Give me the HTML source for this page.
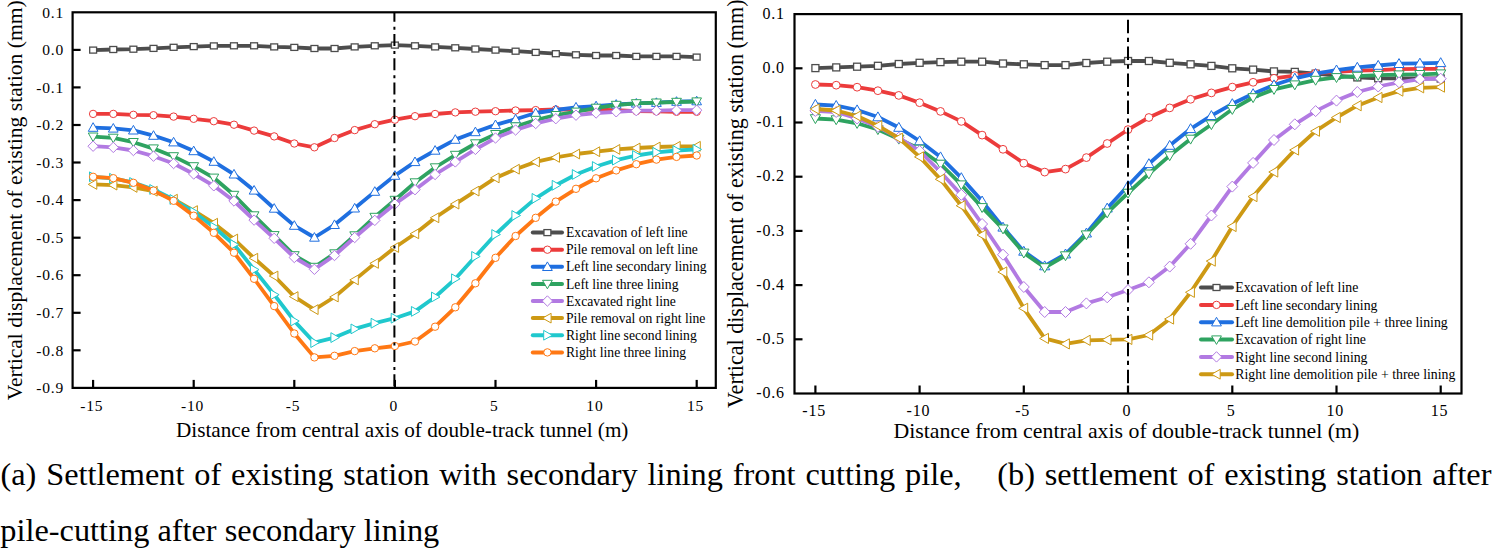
<!DOCTYPE html>
<html><head><meta charset="utf-8"><title>Settlement charts</title>
<style>html,body{margin:0;padding:0;background:#fff;} body{width:1493px;height:548px;overflow:hidden;font-family:"Liberation Serif",serif;} svg{display:block;}</style>
</head><body>
<svg width="1493" height="548" viewBox="0 0 1493 548">
<rect width="1493" height="548" fill="#fff"/>
<path d="M93.1,50.1 L113.3,49.5 L133.4,49.2 L153.5,48.4 L173.6,47.3 L193.7,46.6 L213.8,45.9 L234.0,45.8 L254.1,45.8 L274.2,46.9 L294.3,47.4 L314.4,48.5 L334.5,48.5 L354.7,46.9 L374.8,45.8 L394.9,45.1 L415.0,45.8 L435.1,46.9 L455.3,47.8 L475.4,49.0 L495.5,50.1 L515.6,51.2 L535.7,52.4 L555.8,53.7 L576.0,54.8 L596.1,55.5 L616.2,55.5 L636.3,56.4 L656.4,56.4 L676.5,56.4 L696.7,57.1" fill="none" stroke="#4d4d4d" stroke-width="3.8" stroke-linejoin="round"/>
<rect x="89.69" y="47.10" width="6.9" height="6.0" fill="#fff" stroke="#4d4d4d" stroke-width="1.3"/>
<rect x="109.81" y="46.50" width="6.9" height="6.0" fill="#fff" stroke="#4d4d4d" stroke-width="1.3"/>
<rect x="129.93" y="46.20" width="6.9" height="6.0" fill="#fff" stroke="#4d4d4d" stroke-width="1.3"/>
<rect x="150.05" y="45.40" width="6.9" height="6.0" fill="#fff" stroke="#4d4d4d" stroke-width="1.3"/>
<rect x="170.16" y="44.30" width="6.9" height="6.0" fill="#fff" stroke="#4d4d4d" stroke-width="1.3"/>
<rect x="190.28" y="43.60" width="6.9" height="6.0" fill="#fff" stroke="#4d4d4d" stroke-width="1.3"/>
<rect x="210.40" y="42.90" width="6.9" height="6.0" fill="#fff" stroke="#4d4d4d" stroke-width="1.3"/>
<rect x="230.51" y="42.80" width="6.9" height="6.0" fill="#fff" stroke="#4d4d4d" stroke-width="1.3"/>
<rect x="250.63" y="42.80" width="6.9" height="6.0" fill="#fff" stroke="#4d4d4d" stroke-width="1.3"/>
<rect x="270.75" y="43.90" width="6.9" height="6.0" fill="#fff" stroke="#4d4d4d" stroke-width="1.3"/>
<rect x="290.86" y="44.40" width="6.9" height="6.0" fill="#fff" stroke="#4d4d4d" stroke-width="1.3"/>
<rect x="310.98" y="45.50" width="6.9" height="6.0" fill="#fff" stroke="#4d4d4d" stroke-width="1.3"/>
<rect x="331.10" y="45.50" width="6.9" height="6.0" fill="#fff" stroke="#4d4d4d" stroke-width="1.3"/>
<rect x="351.22" y="43.90" width="6.9" height="6.0" fill="#fff" stroke="#4d4d4d" stroke-width="1.3"/>
<rect x="371.33" y="42.80" width="6.9" height="6.0" fill="#fff" stroke="#4d4d4d" stroke-width="1.3"/>
<rect x="391.45" y="42.10" width="6.9" height="6.0" fill="#fff" stroke="#4d4d4d" stroke-width="1.3"/>
<rect x="411.57" y="42.80" width="6.9" height="6.0" fill="#fff" stroke="#4d4d4d" stroke-width="1.3"/>
<rect x="431.68" y="43.90" width="6.9" height="6.0" fill="#fff" stroke="#4d4d4d" stroke-width="1.3"/>
<rect x="451.80" y="44.80" width="6.9" height="6.0" fill="#fff" stroke="#4d4d4d" stroke-width="1.3"/>
<rect x="471.92" y="46.00" width="6.9" height="6.0" fill="#fff" stroke="#4d4d4d" stroke-width="1.3"/>
<rect x="492.04" y="47.10" width="6.9" height="6.0" fill="#fff" stroke="#4d4d4d" stroke-width="1.3"/>
<rect x="512.15" y="48.20" width="6.9" height="6.0" fill="#fff" stroke="#4d4d4d" stroke-width="1.3"/>
<rect x="532.27" y="49.40" width="6.9" height="6.0" fill="#fff" stroke="#4d4d4d" stroke-width="1.3"/>
<rect x="552.39" y="50.70" width="6.9" height="6.0" fill="#fff" stroke="#4d4d4d" stroke-width="1.3"/>
<rect x="572.50" y="51.80" width="6.9" height="6.0" fill="#fff" stroke="#4d4d4d" stroke-width="1.3"/>
<rect x="592.62" y="52.50" width="6.9" height="6.0" fill="#fff" stroke="#4d4d4d" stroke-width="1.3"/>
<rect x="612.74" y="52.50" width="6.9" height="6.0" fill="#fff" stroke="#4d4d4d" stroke-width="1.3"/>
<rect x="632.85" y="53.40" width="6.9" height="6.0" fill="#fff" stroke="#4d4d4d" stroke-width="1.3"/>
<rect x="652.97" y="53.40" width="6.9" height="6.0" fill="#fff" stroke="#4d4d4d" stroke-width="1.3"/>
<rect x="673.09" y="53.40" width="6.9" height="6.0" fill="#fff" stroke="#4d4d4d" stroke-width="1.3"/>
<rect x="693.20" y="54.10" width="6.9" height="6.0" fill="#fff" stroke="#4d4d4d" stroke-width="1.3"/>
<path d="M93.1,113.9 L113.3,113.9 L133.4,114.8 L153.5,115.2 L173.6,116.6 L193.7,118.8 L213.8,121.2 L234.0,124.7 L254.1,130.6 L274.2,136.4 L294.3,143.5 L314.4,147.3 L334.5,138.0 L354.7,130.1 L374.8,124.2 L394.9,119.7 L415.0,116.2 L435.1,114.0 L455.3,112.4 L475.4,111.7 L495.5,111.2 L515.6,110.5 L535.7,110.1 L555.8,109.5 L576.0,109.5 L596.1,109.7 L616.2,110.2 L636.3,111.1 L656.4,111.4 L676.5,111.8 L696.7,111.8" fill="none" stroke="#ec3b3b" stroke-width="3.8" stroke-linejoin="round"/>
<circle cx="93.1" cy="113.9" r="3.7" fill="#fff" stroke="#ec3b3b" stroke-width="1.0"/>
<circle cx="113.3" cy="113.9" r="3.7" fill="#fff" stroke="#ec3b3b" stroke-width="1.0"/>
<circle cx="133.4" cy="114.8" r="3.7" fill="#fff" stroke="#ec3b3b" stroke-width="1.0"/>
<circle cx="153.5" cy="115.2" r="3.7" fill="#fff" stroke="#ec3b3b" stroke-width="1.0"/>
<circle cx="173.6" cy="116.6" r="3.7" fill="#fff" stroke="#ec3b3b" stroke-width="1.0"/>
<circle cx="193.7" cy="118.8" r="3.7" fill="#fff" stroke="#ec3b3b" stroke-width="1.0"/>
<circle cx="213.8" cy="121.2" r="3.7" fill="#fff" stroke="#ec3b3b" stroke-width="1.0"/>
<circle cx="234.0" cy="124.7" r="3.7" fill="#fff" stroke="#ec3b3b" stroke-width="1.0"/>
<circle cx="254.1" cy="130.6" r="3.7" fill="#fff" stroke="#ec3b3b" stroke-width="1.0"/>
<circle cx="274.2" cy="136.4" r="3.7" fill="#fff" stroke="#ec3b3b" stroke-width="1.0"/>
<circle cx="294.3" cy="143.5" r="3.7" fill="#fff" stroke="#ec3b3b" stroke-width="1.0"/>
<circle cx="314.4" cy="147.3" r="3.7" fill="#fff" stroke="#ec3b3b" stroke-width="1.0"/>
<circle cx="334.5" cy="138.0" r="3.7" fill="#fff" stroke="#ec3b3b" stroke-width="1.0"/>
<circle cx="354.7" cy="130.1" r="3.7" fill="#fff" stroke="#ec3b3b" stroke-width="1.0"/>
<circle cx="374.8" cy="124.2" r="3.7" fill="#fff" stroke="#ec3b3b" stroke-width="1.0"/>
<circle cx="394.9" cy="119.7" r="3.7" fill="#fff" stroke="#ec3b3b" stroke-width="1.0"/>
<circle cx="415.0" cy="116.2" r="3.7" fill="#fff" stroke="#ec3b3b" stroke-width="1.0"/>
<circle cx="435.1" cy="114.0" r="3.7" fill="#fff" stroke="#ec3b3b" stroke-width="1.0"/>
<circle cx="455.3" cy="112.4" r="3.7" fill="#fff" stroke="#ec3b3b" stroke-width="1.0"/>
<circle cx="475.4" cy="111.7" r="3.7" fill="#fff" stroke="#ec3b3b" stroke-width="1.0"/>
<circle cx="495.5" cy="111.2" r="3.7" fill="#fff" stroke="#ec3b3b" stroke-width="1.0"/>
<circle cx="515.6" cy="110.5" r="3.7" fill="#fff" stroke="#ec3b3b" stroke-width="1.0"/>
<circle cx="535.7" cy="110.1" r="3.7" fill="#fff" stroke="#ec3b3b" stroke-width="1.0"/>
<circle cx="555.8" cy="109.5" r="3.7" fill="#fff" stroke="#ec3b3b" stroke-width="1.0"/>
<circle cx="576.0" cy="109.5" r="3.7" fill="#fff" stroke="#ec3b3b" stroke-width="1.0"/>
<circle cx="596.1" cy="109.7" r="3.7" fill="#fff" stroke="#ec3b3b" stroke-width="1.0"/>
<circle cx="616.2" cy="110.2" r="3.7" fill="#fff" stroke="#ec3b3b" stroke-width="1.0"/>
<circle cx="636.3" cy="111.1" r="3.7" fill="#fff" stroke="#ec3b3b" stroke-width="1.0"/>
<circle cx="656.4" cy="111.4" r="3.7" fill="#fff" stroke="#ec3b3b" stroke-width="1.0"/>
<circle cx="676.5" cy="111.8" r="3.7" fill="#fff" stroke="#ec3b3b" stroke-width="1.0"/>
<circle cx="696.7" cy="111.8" r="3.7" fill="#fff" stroke="#ec3b3b" stroke-width="1.0"/>
<path d="M93.1,127.6 L113.3,128.4 L133.4,130.3 L153.5,135.6 L173.6,142.2 L193.7,151.0 L213.8,161.6 L234.0,174.3 L254.1,190.4 L274.2,208.5 L294.3,225.6 L314.4,237.5 L334.5,224.8 L354.7,208.3 L374.8,191.6 L394.9,175.6 L415.0,161.9 L435.1,150.5 L455.3,139.6 L475.4,132.0 L495.5,124.9 L515.6,119.2 L535.7,113.0 L555.8,110.0 L576.0,107.3 L596.1,106.1 L616.2,104.5 L636.3,103.4 L656.4,102.7 L676.5,101.6 L696.7,101.1" fill="none" stroke="#1f6fe0" stroke-width="3.8" stroke-linejoin="round"/>
<polygon points="93.1,122.7 98.0,131.3 88.3,131.3" fill="#fff" stroke="#1f6fe0" stroke-width="1.0"/>
<polygon points="113.3,123.5 118.1,132.1 108.4,132.1" fill="#fff" stroke="#1f6fe0" stroke-width="1.0"/>
<polygon points="133.4,125.4 138.3,134.0 128.5,134.0" fill="#fff" stroke="#1f6fe0" stroke-width="1.0"/>
<polygon points="153.5,130.7 158.4,139.3 148.6,139.3" fill="#fff" stroke="#1f6fe0" stroke-width="1.0"/>
<polygon points="173.6,137.3 178.5,145.9 168.7,145.9" fill="#fff" stroke="#1f6fe0" stroke-width="1.0"/>
<polygon points="193.7,146.1 198.6,154.7 188.8,154.7" fill="#fff" stroke="#1f6fe0" stroke-width="1.0"/>
<polygon points="213.8,156.7 218.7,165.3 209.0,165.3" fill="#fff" stroke="#1f6fe0" stroke-width="1.0"/>
<polygon points="234.0,169.4 238.8,178.0 229.1,178.0" fill="#fff" stroke="#1f6fe0" stroke-width="1.0"/>
<polygon points="254.1,185.5 259.0,194.1 249.2,194.1" fill="#fff" stroke="#1f6fe0" stroke-width="1.0"/>
<polygon points="274.2,203.6 279.1,212.2 269.3,212.2" fill="#fff" stroke="#1f6fe0" stroke-width="1.0"/>
<polygon points="294.3,220.7 299.2,229.3 289.4,229.3" fill="#fff" stroke="#1f6fe0" stroke-width="1.0"/>
<polygon points="314.4,232.6 319.3,241.2 309.6,241.2" fill="#fff" stroke="#1f6fe0" stroke-width="1.0"/>
<polygon points="334.5,219.9 339.4,228.5 329.7,228.5" fill="#fff" stroke="#1f6fe0" stroke-width="1.0"/>
<polygon points="354.7,203.4 359.5,212.0 349.8,212.0" fill="#fff" stroke="#1f6fe0" stroke-width="1.0"/>
<polygon points="374.8,186.7 379.7,195.3 369.9,195.3" fill="#fff" stroke="#1f6fe0" stroke-width="1.0"/>
<polygon points="394.9,170.7 399.8,179.3 390.0,179.3" fill="#fff" stroke="#1f6fe0" stroke-width="1.0"/>
<polygon points="415.0,157.0 419.9,165.6 410.1,165.6" fill="#fff" stroke="#1f6fe0" stroke-width="1.0"/>
<polygon points="435.1,145.6 440.0,154.2 430.3,154.2" fill="#fff" stroke="#1f6fe0" stroke-width="1.0"/>
<polygon points="455.3,134.7 460.1,143.3 450.4,143.3" fill="#fff" stroke="#1f6fe0" stroke-width="1.0"/>
<polygon points="475.4,127.1 480.2,135.7 470.5,135.7" fill="#fff" stroke="#1f6fe0" stroke-width="1.0"/>
<polygon points="495.5,120.0 500.4,128.6 490.6,128.6" fill="#fff" stroke="#1f6fe0" stroke-width="1.0"/>
<polygon points="515.6,114.3 520.5,122.9 510.7,122.9" fill="#fff" stroke="#1f6fe0" stroke-width="1.0"/>
<polygon points="535.7,108.1 540.6,116.7 530.8,116.7" fill="#fff" stroke="#1f6fe0" stroke-width="1.0"/>
<polygon points="555.8,105.1 560.7,113.7 551.0,113.7" fill="#fff" stroke="#1f6fe0" stroke-width="1.0"/>
<polygon points="576.0,102.4 580.8,111.0 571.1,111.0" fill="#fff" stroke="#1f6fe0" stroke-width="1.0"/>
<polygon points="596.1,101.2 600.9,109.8 591.2,109.8" fill="#fff" stroke="#1f6fe0" stroke-width="1.0"/>
<polygon points="616.2,99.6 621.1,108.2 611.3,108.2" fill="#fff" stroke="#1f6fe0" stroke-width="1.0"/>
<polygon points="636.3,98.5 641.2,107.1 631.4,107.1" fill="#fff" stroke="#1f6fe0" stroke-width="1.0"/>
<polygon points="656.4,97.8 661.3,106.4 651.5,106.4" fill="#fff" stroke="#1f6fe0" stroke-width="1.0"/>
<polygon points="676.5,96.7 681.4,105.3 671.7,105.3" fill="#fff" stroke="#1f6fe0" stroke-width="1.0"/>
<polygon points="696.7,96.2 701.5,104.8 691.8,104.8" fill="#fff" stroke="#1f6fe0" stroke-width="1.0"/>
<path d="M93.1,136.7 L113.3,137.9 L133.4,142.2 L153.5,148.6 L173.6,156.4 L193.7,166.4 L213.8,177.8 L234.0,195.0 L254.1,215.5 L274.2,235.3 L294.3,255.4 L314.4,267.0 L334.5,253.5 L354.7,235.5 L374.8,217.0 L394.9,200.0 L415.0,182.5 L435.1,167.5 L455.3,155.0 L475.4,143.5 L495.5,134.2 L515.6,126.5 L535.7,120.0 L555.8,115.2 L576.0,111.8 L596.1,107.9 L616.2,105.0 L636.3,103.4 L656.4,102.7 L676.5,102.0 L696.7,101.6" fill="none" stroke="#2ea360" stroke-width="3.8" stroke-linejoin="round"/>
<polygon points="93.1,141.6 98.0,133.0 88.3,133.0" fill="#fff" stroke="#2ea360" stroke-width="1.0"/>
<polygon points="113.3,142.8 118.1,134.2 108.4,134.2" fill="#fff" stroke="#2ea360" stroke-width="1.0"/>
<polygon points="133.4,147.1 138.3,138.5 128.5,138.5" fill="#fff" stroke="#2ea360" stroke-width="1.0"/>
<polygon points="153.5,153.5 158.4,144.9 148.6,144.9" fill="#fff" stroke="#2ea360" stroke-width="1.0"/>
<polygon points="173.6,161.3 178.5,152.7 168.7,152.7" fill="#fff" stroke="#2ea360" stroke-width="1.0"/>
<polygon points="193.7,171.3 198.6,162.7 188.8,162.7" fill="#fff" stroke="#2ea360" stroke-width="1.0"/>
<polygon points="213.8,182.7 218.7,174.1 209.0,174.1" fill="#fff" stroke="#2ea360" stroke-width="1.0"/>
<polygon points="234.0,199.9 238.8,191.3 229.1,191.3" fill="#fff" stroke="#2ea360" stroke-width="1.0"/>
<polygon points="254.1,220.4 259.0,211.8 249.2,211.8" fill="#fff" stroke="#2ea360" stroke-width="1.0"/>
<polygon points="274.2,240.2 279.1,231.6 269.3,231.6" fill="#fff" stroke="#2ea360" stroke-width="1.0"/>
<polygon points="294.3,260.3 299.2,251.7 289.4,251.7" fill="#fff" stroke="#2ea360" stroke-width="1.0"/>
<polygon points="314.4,271.9 319.3,263.3 309.6,263.3" fill="#fff" stroke="#2ea360" stroke-width="1.0"/>
<polygon points="334.5,258.4 339.4,249.8 329.7,249.8" fill="#fff" stroke="#2ea360" stroke-width="1.0"/>
<polygon points="354.7,240.4 359.5,231.8 349.8,231.8" fill="#fff" stroke="#2ea360" stroke-width="1.0"/>
<polygon points="374.8,221.9 379.7,213.3 369.9,213.3" fill="#fff" stroke="#2ea360" stroke-width="1.0"/>
<polygon points="394.9,204.9 399.8,196.3 390.0,196.3" fill="#fff" stroke="#2ea360" stroke-width="1.0"/>
<polygon points="415.0,187.4 419.9,178.8 410.1,178.8" fill="#fff" stroke="#2ea360" stroke-width="1.0"/>
<polygon points="435.1,172.4 440.0,163.8 430.3,163.8" fill="#fff" stroke="#2ea360" stroke-width="1.0"/>
<polygon points="455.3,159.9 460.1,151.3 450.4,151.3" fill="#fff" stroke="#2ea360" stroke-width="1.0"/>
<polygon points="475.4,148.4 480.2,139.8 470.5,139.8" fill="#fff" stroke="#2ea360" stroke-width="1.0"/>
<polygon points="495.5,139.1 500.4,130.5 490.6,130.5" fill="#fff" stroke="#2ea360" stroke-width="1.0"/>
<polygon points="515.6,131.4 520.5,122.8 510.7,122.8" fill="#fff" stroke="#2ea360" stroke-width="1.0"/>
<polygon points="535.7,124.9 540.6,116.3 530.8,116.3" fill="#fff" stroke="#2ea360" stroke-width="1.0"/>
<polygon points="555.8,120.1 560.7,111.5 551.0,111.5" fill="#fff" stroke="#2ea360" stroke-width="1.0"/>
<polygon points="576.0,116.7 580.8,108.1 571.1,108.1" fill="#fff" stroke="#2ea360" stroke-width="1.0"/>
<polygon points="596.1,112.8 600.9,104.2 591.2,104.2" fill="#fff" stroke="#2ea360" stroke-width="1.0"/>
<polygon points="616.2,109.9 621.1,101.3 611.3,101.3" fill="#fff" stroke="#2ea360" stroke-width="1.0"/>
<polygon points="636.3,108.3 641.2,99.7 631.4,99.7" fill="#fff" stroke="#2ea360" stroke-width="1.0"/>
<polygon points="656.4,107.6 661.3,99.0 651.5,99.0" fill="#fff" stroke="#2ea360" stroke-width="1.0"/>
<polygon points="676.5,106.9 681.4,98.3 671.7,98.3" fill="#fff" stroke="#2ea360" stroke-width="1.0"/>
<polygon points="696.7,106.5 701.5,97.9 691.8,97.9" fill="#fff" stroke="#2ea360" stroke-width="1.0"/>
<path d="M93.1,146.2 L113.3,147.4 L133.4,150.5 L153.5,156.2 L173.6,163.5 L193.7,174.0 L213.8,185.8 L234.0,201.0 L254.1,220.1 L274.2,238.3 L294.3,257.5 L314.4,269.3 L334.5,255.5 L354.7,237.5 L374.8,220.4 L394.9,204.0 L415.0,189.7 L435.1,174.5 L455.3,161.9 L475.4,149.4 L495.5,138.0 L515.6,130.0 L535.7,123.5 L555.8,118.7 L576.0,115.2 L596.1,113.0 L616.2,111.8 L636.3,110.7 L656.4,110.7 L676.5,110.2 L696.7,110.2" fill="none" stroke="#b27ae2" stroke-width="3.8" stroke-linejoin="round"/>
<polygon points="93.1,141.0 98.3,146.2 93.1,151.4 87.9,146.2" fill="#fff" stroke="#b27ae2" stroke-width="1.0"/>
<polygon points="113.3,142.2 118.5,147.4 113.3,152.6 108.1,147.4" fill="#fff" stroke="#b27ae2" stroke-width="1.0"/>
<polygon points="133.4,145.3 138.6,150.5 133.4,155.7 128.2,150.5" fill="#fff" stroke="#b27ae2" stroke-width="1.0"/>
<polygon points="153.5,151.0 158.7,156.2 153.5,161.4 148.3,156.2" fill="#fff" stroke="#b27ae2" stroke-width="1.0"/>
<polygon points="173.6,158.3 178.8,163.5 173.6,168.7 168.4,163.5" fill="#fff" stroke="#b27ae2" stroke-width="1.0"/>
<polygon points="193.7,168.8 198.9,174.0 193.7,179.2 188.5,174.0" fill="#fff" stroke="#b27ae2" stroke-width="1.0"/>
<polygon points="213.8,180.6 219.0,185.8 213.8,191.0 208.6,185.8" fill="#fff" stroke="#b27ae2" stroke-width="1.0"/>
<polygon points="234.0,195.8 239.2,201.0 234.0,206.2 228.8,201.0" fill="#fff" stroke="#b27ae2" stroke-width="1.0"/>
<polygon points="254.1,214.9 259.3,220.1 254.1,225.3 248.9,220.1" fill="#fff" stroke="#b27ae2" stroke-width="1.0"/>
<polygon points="274.2,233.1 279.4,238.3 274.2,243.5 269.0,238.3" fill="#fff" stroke="#b27ae2" stroke-width="1.0"/>
<polygon points="294.3,252.3 299.5,257.5 294.3,262.7 289.1,257.5" fill="#fff" stroke="#b27ae2" stroke-width="1.0"/>
<polygon points="314.4,264.1 319.6,269.3 314.4,274.5 309.2,269.3" fill="#fff" stroke="#b27ae2" stroke-width="1.0"/>
<polygon points="334.5,250.3 339.7,255.5 334.5,260.7 329.3,255.5" fill="#fff" stroke="#b27ae2" stroke-width="1.0"/>
<polygon points="354.7,232.3 359.9,237.5 354.7,242.7 349.5,237.5" fill="#fff" stroke="#b27ae2" stroke-width="1.0"/>
<polygon points="374.8,215.2 380.0,220.4 374.8,225.6 369.6,220.4" fill="#fff" stroke="#b27ae2" stroke-width="1.0"/>
<polygon points="394.9,198.8 400.1,204.0 394.9,209.2 389.7,204.0" fill="#fff" stroke="#b27ae2" stroke-width="1.0"/>
<polygon points="415.0,184.5 420.2,189.7 415.0,194.9 409.8,189.7" fill="#fff" stroke="#b27ae2" stroke-width="1.0"/>
<polygon points="435.1,169.3 440.3,174.5 435.1,179.7 429.9,174.5" fill="#fff" stroke="#b27ae2" stroke-width="1.0"/>
<polygon points="455.3,156.7 460.5,161.9 455.3,167.1 450.1,161.9" fill="#fff" stroke="#b27ae2" stroke-width="1.0"/>
<polygon points="475.4,144.2 480.6,149.4 475.4,154.6 470.2,149.4" fill="#fff" stroke="#b27ae2" stroke-width="1.0"/>
<polygon points="495.5,132.8 500.7,138.0 495.5,143.2 490.3,138.0" fill="#fff" stroke="#b27ae2" stroke-width="1.0"/>
<polygon points="515.6,124.8 520.8,130.0 515.6,135.2 510.4,130.0" fill="#fff" stroke="#b27ae2" stroke-width="1.0"/>
<polygon points="535.7,118.3 540.9,123.5 535.7,128.7 530.5,123.5" fill="#fff" stroke="#b27ae2" stroke-width="1.0"/>
<polygon points="555.8,113.5 561.0,118.7 555.8,123.9 550.6,118.7" fill="#fff" stroke="#b27ae2" stroke-width="1.0"/>
<polygon points="576.0,110.0 581.2,115.2 576.0,120.4 570.8,115.2" fill="#fff" stroke="#b27ae2" stroke-width="1.0"/>
<polygon points="596.1,107.8 601.3,113.0 596.1,118.2 590.9,113.0" fill="#fff" stroke="#b27ae2" stroke-width="1.0"/>
<polygon points="616.2,106.6 621.4,111.8 616.2,117.0 611.0,111.8" fill="#fff" stroke="#b27ae2" stroke-width="1.0"/>
<polygon points="636.3,105.5 641.5,110.7 636.3,115.9 631.1,110.7" fill="#fff" stroke="#b27ae2" stroke-width="1.0"/>
<polygon points="656.4,105.5 661.6,110.7 656.4,115.9 651.2,110.7" fill="#fff" stroke="#b27ae2" stroke-width="1.0"/>
<polygon points="676.5,105.0 681.7,110.2 676.5,115.4 671.3,110.2" fill="#fff" stroke="#b27ae2" stroke-width="1.0"/>
<polygon points="696.7,105.0 701.9,110.2 696.7,115.4 691.5,110.2" fill="#fff" stroke="#b27ae2" stroke-width="1.0"/>
<path d="M93.1,184.4 L113.3,185.1 L133.4,187.4 L153.5,191.2 L173.6,199.2 L193.7,210.6 L213.8,223.2 L234.0,239.0 L254.1,258.2 L274.2,276.0 L294.3,296.6 L314.4,309.6 L334.5,297.0 L354.7,279.9 L374.8,263.4 L394.9,247.5 L415.0,233.8 L435.1,217.8 L455.3,204.1 L475.4,191.1 L495.5,177.9 L515.6,169.2 L535.7,161.9 L555.8,157.4 L576.0,154.0 L596.1,151.7 L616.2,149.4 L636.3,148.0 L656.4,147.0 L676.5,146.3 L696.7,146.3" fill="none" stroke="#cd9914" stroke-width="3.8" stroke-linejoin="round"/>
<polygon points="88.3,184.4 96.8,179.5 96.8,189.3" fill="#fff" stroke="#cd9914" stroke-width="1.0"/>
<polygon points="108.4,185.1 116.9,180.2 116.9,190.0" fill="#fff" stroke="#cd9914" stroke-width="1.0"/>
<polygon points="128.5,187.4 137.0,182.5 137.0,192.3" fill="#fff" stroke="#cd9914" stroke-width="1.0"/>
<polygon points="148.6,191.2 157.2,186.3 157.2,196.1" fill="#fff" stroke="#cd9914" stroke-width="1.0"/>
<polygon points="168.7,199.2 177.3,194.3 177.3,204.1" fill="#fff" stroke="#cd9914" stroke-width="1.0"/>
<polygon points="188.8,210.6 197.4,205.7 197.4,215.5" fill="#fff" stroke="#cd9914" stroke-width="1.0"/>
<polygon points="209.0,223.2 217.5,218.3 217.5,228.1" fill="#fff" stroke="#cd9914" stroke-width="1.0"/>
<polygon points="229.1,239.0 237.6,234.1 237.6,243.9" fill="#fff" stroke="#cd9914" stroke-width="1.0"/>
<polygon points="249.2,258.2 257.7,253.3 257.7,263.1" fill="#fff" stroke="#cd9914" stroke-width="1.0"/>
<polygon points="269.3,276.0 277.9,271.1 277.9,280.9" fill="#fff" stroke="#cd9914" stroke-width="1.0"/>
<polygon points="289.4,296.6 298.0,291.7 298.0,301.5" fill="#fff" stroke="#cd9914" stroke-width="1.0"/>
<polygon points="309.6,309.6 318.1,304.7 318.1,314.5" fill="#fff" stroke="#cd9914" stroke-width="1.0"/>
<polygon points="329.7,297.0 338.2,292.1 338.2,301.9" fill="#fff" stroke="#cd9914" stroke-width="1.0"/>
<polygon points="349.8,279.9 358.3,275.0 358.3,284.8" fill="#fff" stroke="#cd9914" stroke-width="1.0"/>
<polygon points="369.9,263.4 378.4,258.5 378.4,268.3" fill="#fff" stroke="#cd9914" stroke-width="1.0"/>
<polygon points="390.0,247.5 398.6,242.6 398.6,252.4" fill="#fff" stroke="#cd9914" stroke-width="1.0"/>
<polygon points="410.1,233.8 418.7,228.9 418.7,238.7" fill="#fff" stroke="#cd9914" stroke-width="1.0"/>
<polygon points="430.3,217.8 438.8,212.9 438.8,222.7" fill="#fff" stroke="#cd9914" stroke-width="1.0"/>
<polygon points="450.4,204.1 458.9,199.2 458.9,209.0" fill="#fff" stroke="#cd9914" stroke-width="1.0"/>
<polygon points="470.5,191.1 479.0,186.2 479.0,196.0" fill="#fff" stroke="#cd9914" stroke-width="1.0"/>
<polygon points="490.6,177.9 499.1,173.0 499.1,182.8" fill="#fff" stroke="#cd9914" stroke-width="1.0"/>
<polygon points="510.7,169.2 519.3,164.3 519.3,174.1" fill="#fff" stroke="#cd9914" stroke-width="1.0"/>
<polygon points="530.8,161.9 539.4,157.0 539.4,166.8" fill="#fff" stroke="#cd9914" stroke-width="1.0"/>
<polygon points="551.0,157.4 559.5,152.5 559.5,162.3" fill="#fff" stroke="#cd9914" stroke-width="1.0"/>
<polygon points="571.1,154.0 579.6,149.1 579.6,158.9" fill="#fff" stroke="#cd9914" stroke-width="1.0"/>
<polygon points="591.2,151.7 599.7,146.8 599.7,156.6" fill="#fff" stroke="#cd9914" stroke-width="1.0"/>
<polygon points="611.3,149.4 619.8,144.5 619.8,154.3" fill="#fff" stroke="#cd9914" stroke-width="1.0"/>
<polygon points="631.4,148.0 640.0,143.1 640.0,152.9" fill="#fff" stroke="#cd9914" stroke-width="1.0"/>
<polygon points="651.5,147.0 660.1,142.1 660.1,151.9" fill="#fff" stroke="#cd9914" stroke-width="1.0"/>
<polygon points="671.7,146.3 680.2,141.4 680.2,151.2" fill="#fff" stroke="#cd9914" stroke-width="1.0"/>
<polygon points="691.8,146.3 700.3,141.4 700.3,151.2" fill="#fff" stroke="#cd9914" stroke-width="1.0"/>
<path d="M93.1,176.8 L113.3,178.3 L133.4,182.5 L153.5,189.5 L173.6,199.5 L193.7,212.0 L213.8,227.0 L234.0,244.5 L254.1,269.6 L274.2,294.7 L294.3,321.0 L314.4,342.6 L334.5,337.6 L354.7,328.9 L374.8,323.2 L394.9,318.2 L415.0,311.4 L435.1,297.0 L455.3,278.8 L475.4,256.4 L495.5,234.5 L515.6,215.5 L535.7,198.4 L555.8,185.3 L576.0,174.5 L596.1,166.5 L616.2,160.1 L636.3,155.5 L656.4,152.3 L676.5,150.5 L696.7,149.4" fill="none" stroke="#20c8cd" stroke-width="3.8" stroke-linejoin="round"/>
<polygon points="98.0,176.8 89.5,171.9 89.5,181.7" fill="#fff" stroke="#20c8cd" stroke-width="1.0"/>
<polygon points="118.1,178.3 109.6,173.4 109.6,183.2" fill="#fff" stroke="#20c8cd" stroke-width="1.0"/>
<polygon points="138.3,182.5 129.7,177.6 129.7,187.4" fill="#fff" stroke="#20c8cd" stroke-width="1.0"/>
<polygon points="158.4,189.5 149.8,184.6 149.8,194.4" fill="#fff" stroke="#20c8cd" stroke-width="1.0"/>
<polygon points="178.5,199.5 170.0,194.6 170.0,204.4" fill="#fff" stroke="#20c8cd" stroke-width="1.0"/>
<polygon points="198.6,212.0 190.1,207.1 190.1,216.9" fill="#fff" stroke="#20c8cd" stroke-width="1.0"/>
<polygon points="218.7,227.0 210.2,222.1 210.2,231.9" fill="#fff" stroke="#20c8cd" stroke-width="1.0"/>
<polygon points="238.8,244.5 230.3,239.6 230.3,249.4" fill="#fff" stroke="#20c8cd" stroke-width="1.0"/>
<polygon points="259.0,269.6 250.4,264.7 250.4,274.5" fill="#fff" stroke="#20c8cd" stroke-width="1.0"/>
<polygon points="279.1,294.7 270.5,289.8 270.5,299.6" fill="#fff" stroke="#20c8cd" stroke-width="1.0"/>
<polygon points="299.2,321.0 290.7,316.1 290.7,325.9" fill="#fff" stroke="#20c8cd" stroke-width="1.0"/>
<polygon points="319.3,342.6 310.8,337.7 310.8,347.5" fill="#fff" stroke="#20c8cd" stroke-width="1.0"/>
<polygon points="339.4,337.6 330.9,332.7 330.9,342.5" fill="#fff" stroke="#20c8cd" stroke-width="1.0"/>
<polygon points="359.5,328.9 351.0,324.0 351.0,333.8" fill="#fff" stroke="#20c8cd" stroke-width="1.0"/>
<polygon points="379.7,323.2 371.1,318.3 371.1,328.1" fill="#fff" stroke="#20c8cd" stroke-width="1.0"/>
<polygon points="399.8,318.2 391.2,313.3 391.2,323.1" fill="#fff" stroke="#20c8cd" stroke-width="1.0"/>
<polygon points="419.9,311.4 411.4,306.5 411.4,316.3" fill="#fff" stroke="#20c8cd" stroke-width="1.0"/>
<polygon points="440.0,297.0 431.5,292.1 431.5,301.9" fill="#fff" stroke="#20c8cd" stroke-width="1.0"/>
<polygon points="460.1,278.8 451.6,273.9 451.6,283.7" fill="#fff" stroke="#20c8cd" stroke-width="1.0"/>
<polygon points="480.2,256.4 471.7,251.5 471.7,261.3" fill="#fff" stroke="#20c8cd" stroke-width="1.0"/>
<polygon points="500.4,234.5 491.8,229.6 491.8,239.4" fill="#fff" stroke="#20c8cd" stroke-width="1.0"/>
<polygon points="520.5,215.5 511.9,210.6 511.9,220.4" fill="#fff" stroke="#20c8cd" stroke-width="1.0"/>
<polygon points="540.6,198.4 532.1,193.5 532.1,203.3" fill="#fff" stroke="#20c8cd" stroke-width="1.0"/>
<polygon points="560.7,185.3 552.2,180.4 552.2,190.2" fill="#fff" stroke="#20c8cd" stroke-width="1.0"/>
<polygon points="580.8,174.5 572.3,169.6 572.3,179.4" fill="#fff" stroke="#20c8cd" stroke-width="1.0"/>
<polygon points="600.9,166.5 592.4,161.6 592.4,171.4" fill="#fff" stroke="#20c8cd" stroke-width="1.0"/>
<polygon points="621.1,160.1 612.5,155.2 612.5,165.0" fill="#fff" stroke="#20c8cd" stroke-width="1.0"/>
<polygon points="641.2,155.5 632.6,150.6 632.6,160.4" fill="#fff" stroke="#20c8cd" stroke-width="1.0"/>
<polygon points="661.3,152.3 652.8,147.4 652.8,157.2" fill="#fff" stroke="#20c8cd" stroke-width="1.0"/>
<polygon points="681.4,150.5 672.9,145.6 672.9,155.4" fill="#fff" stroke="#20c8cd" stroke-width="1.0"/>
<polygon points="701.5,149.4 693.0,144.5 693.0,154.3" fill="#fff" stroke="#20c8cd" stroke-width="1.0"/>
<path d="M93.1,176.8 L113.3,178.2 L133.4,182.8 L153.5,190.6 L173.6,200.8 L193.7,215.7 L213.8,232.8 L234.0,252.7 L254.1,278.8 L274.2,306.1 L294.3,333.5 L314.4,357.4 L334.5,355.8 L354.7,351.1 L374.8,348.3 L394.9,346.0 L415.0,341.5 L435.1,326.7 L455.3,307.3 L475.4,283.3 L495.5,257.8 L515.6,236.0 L535.7,217.8 L555.8,201.6 L576.0,188.8 L596.1,178.3 L616.2,170.4 L636.3,164.2 L656.4,159.6 L676.5,156.9 L696.7,155.5" fill="none" stroke="#ff7814" stroke-width="3.8" stroke-linejoin="round"/>
<circle cx="93.1" cy="176.8" r="3.7" fill="#fff" stroke="#ff7814" stroke-width="1.0"/>
<circle cx="113.3" cy="178.2" r="3.7" fill="#fff" stroke="#ff7814" stroke-width="1.0"/>
<circle cx="133.4" cy="182.8" r="3.7" fill="#fff" stroke="#ff7814" stroke-width="1.0"/>
<circle cx="153.5" cy="190.6" r="3.7" fill="#fff" stroke="#ff7814" stroke-width="1.0"/>
<circle cx="173.6" cy="200.8" r="3.7" fill="#fff" stroke="#ff7814" stroke-width="1.0"/>
<circle cx="193.7" cy="215.7" r="3.7" fill="#fff" stroke="#ff7814" stroke-width="1.0"/>
<circle cx="213.8" cy="232.8" r="3.7" fill="#fff" stroke="#ff7814" stroke-width="1.0"/>
<circle cx="234.0" cy="252.7" r="3.7" fill="#fff" stroke="#ff7814" stroke-width="1.0"/>
<circle cx="254.1" cy="278.8" r="3.7" fill="#fff" stroke="#ff7814" stroke-width="1.0"/>
<circle cx="274.2" cy="306.1" r="3.7" fill="#fff" stroke="#ff7814" stroke-width="1.0"/>
<circle cx="294.3" cy="333.5" r="3.7" fill="#fff" stroke="#ff7814" stroke-width="1.0"/>
<circle cx="314.4" cy="357.4" r="3.7" fill="#fff" stroke="#ff7814" stroke-width="1.0"/>
<circle cx="334.5" cy="355.8" r="3.7" fill="#fff" stroke="#ff7814" stroke-width="1.0"/>
<circle cx="354.7" cy="351.1" r="3.7" fill="#fff" stroke="#ff7814" stroke-width="1.0"/>
<circle cx="374.8" cy="348.3" r="3.7" fill="#fff" stroke="#ff7814" stroke-width="1.0"/>
<circle cx="394.9" cy="346.0" r="3.7" fill="#fff" stroke="#ff7814" stroke-width="1.0"/>
<circle cx="415.0" cy="341.5" r="3.7" fill="#fff" stroke="#ff7814" stroke-width="1.0"/>
<circle cx="435.1" cy="326.7" r="3.7" fill="#fff" stroke="#ff7814" stroke-width="1.0"/>
<circle cx="455.3" cy="307.3" r="3.7" fill="#fff" stroke="#ff7814" stroke-width="1.0"/>
<circle cx="475.4" cy="283.3" r="3.7" fill="#fff" stroke="#ff7814" stroke-width="1.0"/>
<circle cx="495.5" cy="257.8" r="3.7" fill="#fff" stroke="#ff7814" stroke-width="1.0"/>
<circle cx="515.6" cy="236.0" r="3.7" fill="#fff" stroke="#ff7814" stroke-width="1.0"/>
<circle cx="535.7" cy="217.8" r="3.7" fill="#fff" stroke="#ff7814" stroke-width="1.0"/>
<circle cx="555.8" cy="201.6" r="3.7" fill="#fff" stroke="#ff7814" stroke-width="1.0"/>
<circle cx="576.0" cy="188.8" r="3.7" fill="#fff" stroke="#ff7814" stroke-width="1.0"/>
<circle cx="596.1" cy="178.3" r="3.7" fill="#fff" stroke="#ff7814" stroke-width="1.0"/>
<circle cx="616.2" cy="170.4" r="3.7" fill="#fff" stroke="#ff7814" stroke-width="1.0"/>
<circle cx="636.3" cy="164.2" r="3.7" fill="#fff" stroke="#ff7814" stroke-width="1.0"/>
<circle cx="656.4" cy="159.6" r="3.7" fill="#fff" stroke="#ff7814" stroke-width="1.0"/>
<circle cx="676.5" cy="156.9" r="3.7" fill="#fff" stroke="#ff7814" stroke-width="1.0"/>
<circle cx="696.7" cy="155.5" r="3.7" fill="#fff" stroke="#ff7814" stroke-width="1.0"/>
<path d="M815.4,68.1 L836.2,67.4 L857.1,66.7 L877.9,65.8 L898.8,64.0 L919.6,62.8 L940.5,62.1 L961.3,61.7 L982.1,61.7 L1003.0,63.5 L1023.8,64.3 L1044.7,65.1 L1065.5,65.1 L1086.4,63.0 L1107.2,61.7 L1128.0,61.0 L1148.9,61.0 L1169.7,62.8 L1190.6,64.3 L1211.4,65.9 L1232.3,68.3 L1253.1,69.6 L1274.0,71.4 L1294.8,71.9 L1315.6,73.7 L1336.5,75.6 L1357.3,77.4 L1378.2,78.3 L1399.0,78.3 L1419.9,78.3 L1440.7,78.5" fill="none" stroke="#4d4d4d" stroke-width="3.8" stroke-linejoin="round"/>
<rect x="811.90" y="64.60" width="7.0" height="7.0" fill="#fff" stroke="#4d4d4d" stroke-width="1.3"/>
<rect x="832.75" y="63.90" width="7.0" height="7.0" fill="#fff" stroke="#4d4d4d" stroke-width="1.3"/>
<rect x="853.59" y="63.20" width="7.0" height="7.0" fill="#fff" stroke="#4d4d4d" stroke-width="1.3"/>
<rect x="874.43" y="62.30" width="7.0" height="7.0" fill="#fff" stroke="#4d4d4d" stroke-width="1.3"/>
<rect x="895.28" y="60.50" width="7.0" height="7.0" fill="#fff" stroke="#4d4d4d" stroke-width="1.3"/>
<rect x="916.12" y="59.30" width="7.0" height="7.0" fill="#fff" stroke="#4d4d4d" stroke-width="1.3"/>
<rect x="936.96" y="58.60" width="7.0" height="7.0" fill="#fff" stroke="#4d4d4d" stroke-width="1.3"/>
<rect x="957.81" y="58.20" width="7.0" height="7.0" fill="#fff" stroke="#4d4d4d" stroke-width="1.3"/>
<rect x="978.65" y="58.20" width="7.0" height="7.0" fill="#fff" stroke="#4d4d4d" stroke-width="1.3"/>
<rect x="999.49" y="60.00" width="7.0" height="7.0" fill="#fff" stroke="#4d4d4d" stroke-width="1.3"/>
<rect x="1020.33" y="60.80" width="7.0" height="7.0" fill="#fff" stroke="#4d4d4d" stroke-width="1.3"/>
<rect x="1041.18" y="61.60" width="7.0" height="7.0" fill="#fff" stroke="#4d4d4d" stroke-width="1.3"/>
<rect x="1062.02" y="61.60" width="7.0" height="7.0" fill="#fff" stroke="#4d4d4d" stroke-width="1.3"/>
<rect x="1082.86" y="59.50" width="7.0" height="7.0" fill="#fff" stroke="#4d4d4d" stroke-width="1.3"/>
<rect x="1103.71" y="58.20" width="7.0" height="7.0" fill="#fff" stroke="#4d4d4d" stroke-width="1.3"/>
<rect x="1124.55" y="57.50" width="7.0" height="7.0" fill="#fff" stroke="#4d4d4d" stroke-width="1.3"/>
<rect x="1145.39" y="57.50" width="7.0" height="7.0" fill="#fff" stroke="#4d4d4d" stroke-width="1.3"/>
<rect x="1166.24" y="59.30" width="7.0" height="7.0" fill="#fff" stroke="#4d4d4d" stroke-width="1.3"/>
<rect x="1187.08" y="60.80" width="7.0" height="7.0" fill="#fff" stroke="#4d4d4d" stroke-width="1.3"/>
<rect x="1207.92" y="62.40" width="7.0" height="7.0" fill="#fff" stroke="#4d4d4d" stroke-width="1.3"/>
<rect x="1228.76" y="64.80" width="7.0" height="7.0" fill="#fff" stroke="#4d4d4d" stroke-width="1.3"/>
<rect x="1249.61" y="66.10" width="7.0" height="7.0" fill="#fff" stroke="#4d4d4d" stroke-width="1.3"/>
<rect x="1270.45" y="67.90" width="7.0" height="7.0" fill="#fff" stroke="#4d4d4d" stroke-width="1.3"/>
<rect x="1291.29" y="68.40" width="7.0" height="7.0" fill="#fff" stroke="#4d4d4d" stroke-width="1.3"/>
<rect x="1312.14" y="70.20" width="7.0" height="7.0" fill="#fff" stroke="#4d4d4d" stroke-width="1.3"/>
<rect x="1332.98" y="72.10" width="7.0" height="7.0" fill="#fff" stroke="#4d4d4d" stroke-width="1.3"/>
<rect x="1353.82" y="73.90" width="7.0" height="7.0" fill="#fff" stroke="#4d4d4d" stroke-width="1.3"/>
<rect x="1374.67" y="74.80" width="7.0" height="7.0" fill="#fff" stroke="#4d4d4d" stroke-width="1.3"/>
<rect x="1395.51" y="74.80" width="7.0" height="7.0" fill="#fff" stroke="#4d4d4d" stroke-width="1.3"/>
<rect x="1416.35" y="74.80" width="7.0" height="7.0" fill="#fff" stroke="#4d4d4d" stroke-width="1.3"/>
<rect x="1437.19" y="75.00" width="7.0" height="7.0" fill="#fff" stroke="#4d4d4d" stroke-width="1.3"/>
<path d="M815.4,84.5 L836.2,85.2 L857.1,87.2 L877.9,90.7 L898.8,95.4 L919.6,102.7 L940.5,111.4 L961.3,121.4 L982.1,135.1 L1003.0,149.3 L1023.8,163.2 L1044.7,172.1 L1065.5,169.1 L1086.4,157.6 L1107.2,143.5 L1128.0,129.6 L1148.9,117.5 L1169.7,107.9 L1190.6,99.3 L1211.4,92.9 L1232.3,87.1 L1253.1,82.3 L1274.0,78.3 L1294.8,75.6 L1315.6,73.2 L1336.5,71.9 L1357.3,70.6 L1378.2,70.1 L1399.0,69.2 L1419.9,68.8 L1440.7,68.8" fill="none" stroke="#ec3b3b" stroke-width="3.8" stroke-linejoin="round"/>
<circle cx="815.4" cy="84.5" r="3.9" fill="#fff" stroke="#ec3b3b" stroke-width="1.0"/>
<circle cx="836.2" cy="85.2" r="3.9" fill="#fff" stroke="#ec3b3b" stroke-width="1.0"/>
<circle cx="857.1" cy="87.2" r="3.9" fill="#fff" stroke="#ec3b3b" stroke-width="1.0"/>
<circle cx="877.9" cy="90.7" r="3.9" fill="#fff" stroke="#ec3b3b" stroke-width="1.0"/>
<circle cx="898.8" cy="95.4" r="3.9" fill="#fff" stroke="#ec3b3b" stroke-width="1.0"/>
<circle cx="919.6" cy="102.7" r="3.9" fill="#fff" stroke="#ec3b3b" stroke-width="1.0"/>
<circle cx="940.5" cy="111.4" r="3.9" fill="#fff" stroke="#ec3b3b" stroke-width="1.0"/>
<circle cx="961.3" cy="121.4" r="3.9" fill="#fff" stroke="#ec3b3b" stroke-width="1.0"/>
<circle cx="982.1" cy="135.1" r="3.9" fill="#fff" stroke="#ec3b3b" stroke-width="1.0"/>
<circle cx="1003.0" cy="149.3" r="3.9" fill="#fff" stroke="#ec3b3b" stroke-width="1.0"/>
<circle cx="1023.8" cy="163.2" r="3.9" fill="#fff" stroke="#ec3b3b" stroke-width="1.0"/>
<circle cx="1044.7" cy="172.1" r="3.9" fill="#fff" stroke="#ec3b3b" stroke-width="1.0"/>
<circle cx="1065.5" cy="169.1" r="3.9" fill="#fff" stroke="#ec3b3b" stroke-width="1.0"/>
<circle cx="1086.4" cy="157.6" r="3.9" fill="#fff" stroke="#ec3b3b" stroke-width="1.0"/>
<circle cx="1107.2" cy="143.5" r="3.9" fill="#fff" stroke="#ec3b3b" stroke-width="1.0"/>
<circle cx="1128.0" cy="129.6" r="3.9" fill="#fff" stroke="#ec3b3b" stroke-width="1.0"/>
<circle cx="1148.9" cy="117.5" r="3.9" fill="#fff" stroke="#ec3b3b" stroke-width="1.0"/>
<circle cx="1169.7" cy="107.9" r="3.9" fill="#fff" stroke="#ec3b3b" stroke-width="1.0"/>
<circle cx="1190.6" cy="99.3" r="3.9" fill="#fff" stroke="#ec3b3b" stroke-width="1.0"/>
<circle cx="1211.4" cy="92.9" r="3.9" fill="#fff" stroke="#ec3b3b" stroke-width="1.0"/>
<circle cx="1232.3" cy="87.1" r="3.9" fill="#fff" stroke="#ec3b3b" stroke-width="1.0"/>
<circle cx="1253.1" cy="82.3" r="3.9" fill="#fff" stroke="#ec3b3b" stroke-width="1.0"/>
<circle cx="1274.0" cy="78.3" r="3.9" fill="#fff" stroke="#ec3b3b" stroke-width="1.0"/>
<circle cx="1294.8" cy="75.6" r="3.9" fill="#fff" stroke="#ec3b3b" stroke-width="1.0"/>
<circle cx="1315.6" cy="73.2" r="3.9" fill="#fff" stroke="#ec3b3b" stroke-width="1.0"/>
<circle cx="1336.5" cy="71.9" r="3.9" fill="#fff" stroke="#ec3b3b" stroke-width="1.0"/>
<circle cx="1357.3" cy="70.6" r="3.9" fill="#fff" stroke="#ec3b3b" stroke-width="1.0"/>
<circle cx="1378.2" cy="70.1" r="3.9" fill="#fff" stroke="#ec3b3b" stroke-width="1.0"/>
<circle cx="1399.0" cy="69.2" r="3.9" fill="#fff" stroke="#ec3b3b" stroke-width="1.0"/>
<circle cx="1419.9" cy="68.8" r="3.9" fill="#fff" stroke="#ec3b3b" stroke-width="1.0"/>
<circle cx="1440.7" cy="68.8" r="3.9" fill="#fff" stroke="#ec3b3b" stroke-width="1.0"/>
<path d="M815.4,104.5 L836.2,105.6 L857.1,110.0 L877.9,117.0 L898.8,127.5 L919.6,141.0 L940.5,157.0 L961.3,177.8 L982.1,201.1 L1003.0,227.3 L1023.8,251.4 L1044.7,266.0 L1065.5,254.1 L1086.4,233.2 L1107.2,208.2 L1128.0,185.7 L1148.9,163.8 L1169.7,145.5 L1190.6,128.8 L1211.4,115.7 L1232.3,103.8 L1253.1,93.8 L1274.0,85.0 L1294.8,78.3 L1315.6,73.7 L1336.5,70.1 L1357.3,67.4 L1378.2,65.5 L1399.0,63.7 L1419.9,63.3 L1440.7,62.8" fill="none" stroke="#1f6fe0" stroke-width="3.8" stroke-linejoin="round"/>
<polygon points="815.4,99.4 820.5,108.3 810.3,108.3" fill="#fff" stroke="#1f6fe0" stroke-width="1.0"/>
<polygon points="836.2,100.5 841.4,109.4 831.1,109.4" fill="#fff" stroke="#1f6fe0" stroke-width="1.0"/>
<polygon points="857.1,104.9 862.2,113.8 852.0,113.8" fill="#fff" stroke="#1f6fe0" stroke-width="1.0"/>
<polygon points="877.9,111.9 883.1,120.8 872.8,120.8" fill="#fff" stroke="#1f6fe0" stroke-width="1.0"/>
<polygon points="898.8,122.4 903.9,131.3 893.7,131.3" fill="#fff" stroke="#1f6fe0" stroke-width="1.0"/>
<polygon points="919.6,135.9 924.7,144.8 914.5,144.8" fill="#fff" stroke="#1f6fe0" stroke-width="1.0"/>
<polygon points="940.5,151.9 945.6,160.8 935.3,160.8" fill="#fff" stroke="#1f6fe0" stroke-width="1.0"/>
<polygon points="961.3,172.7 966.4,181.6 956.2,181.6" fill="#fff" stroke="#1f6fe0" stroke-width="1.0"/>
<polygon points="982.1,196.0 987.3,204.9 977.0,204.9" fill="#fff" stroke="#1f6fe0" stroke-width="1.0"/>
<polygon points="1003.0,222.2 1008.1,231.1 997.9,231.1" fill="#fff" stroke="#1f6fe0" stroke-width="1.0"/>
<polygon points="1023.8,246.3 1029.0,255.2 1018.7,255.2" fill="#fff" stroke="#1f6fe0" stroke-width="1.0"/>
<polygon points="1044.7,260.9 1049.8,269.8 1039.6,269.8" fill="#fff" stroke="#1f6fe0" stroke-width="1.0"/>
<polygon points="1065.5,249.0 1070.6,257.9 1060.4,257.9" fill="#fff" stroke="#1f6fe0" stroke-width="1.0"/>
<polygon points="1086.4,228.1 1091.5,237.0 1081.2,237.0" fill="#fff" stroke="#1f6fe0" stroke-width="1.0"/>
<polygon points="1107.2,203.1 1112.3,212.0 1102.1,212.0" fill="#fff" stroke="#1f6fe0" stroke-width="1.0"/>
<polygon points="1128.0,180.6 1133.2,189.5 1122.9,189.5" fill="#fff" stroke="#1f6fe0" stroke-width="1.0"/>
<polygon points="1148.9,158.7 1154.0,167.6 1143.8,167.6" fill="#fff" stroke="#1f6fe0" stroke-width="1.0"/>
<polygon points="1169.7,140.4 1174.9,149.3 1164.6,149.3" fill="#fff" stroke="#1f6fe0" stroke-width="1.0"/>
<polygon points="1190.6,123.7 1195.7,132.6 1185.5,132.6" fill="#fff" stroke="#1f6fe0" stroke-width="1.0"/>
<polygon points="1211.4,110.6 1216.5,119.5 1206.3,119.5" fill="#fff" stroke="#1f6fe0" stroke-width="1.0"/>
<polygon points="1232.3,98.7 1237.4,107.6 1227.1,107.6" fill="#fff" stroke="#1f6fe0" stroke-width="1.0"/>
<polygon points="1253.1,88.7 1258.2,97.6 1248.0,97.6" fill="#fff" stroke="#1f6fe0" stroke-width="1.0"/>
<polygon points="1274.0,79.9 1279.1,88.8 1268.8,88.8" fill="#fff" stroke="#1f6fe0" stroke-width="1.0"/>
<polygon points="1294.8,73.2 1299.9,82.1 1289.7,82.1" fill="#fff" stroke="#1f6fe0" stroke-width="1.0"/>
<polygon points="1315.6,68.6 1320.8,77.5 1310.5,77.5" fill="#fff" stroke="#1f6fe0" stroke-width="1.0"/>
<polygon points="1336.5,65.0 1341.6,73.9 1331.4,73.9" fill="#fff" stroke="#1f6fe0" stroke-width="1.0"/>
<polygon points="1357.3,62.3 1362.4,71.2 1352.2,71.2" fill="#fff" stroke="#1f6fe0" stroke-width="1.0"/>
<polygon points="1378.2,60.4 1383.3,69.3 1373.0,69.3" fill="#fff" stroke="#1f6fe0" stroke-width="1.0"/>
<polygon points="1399.0,58.6 1404.1,67.5 1393.9,67.5" fill="#fff" stroke="#1f6fe0" stroke-width="1.0"/>
<polygon points="1419.9,58.2 1425.0,67.1 1414.7,67.1" fill="#fff" stroke="#1f6fe0" stroke-width="1.0"/>
<polygon points="1440.7,57.7 1445.8,66.6 1435.6,66.6" fill="#fff" stroke="#1f6fe0" stroke-width="1.0"/>
<path d="M815.4,118.5 L836.2,119.6 L857.1,123.3 L877.9,129.5 L898.8,139.0 L919.6,149.0 L940.5,164.0 L961.3,184.7 L982.1,207.4 L1003.0,228.8 L1023.8,252.9 L1044.7,267.5 L1065.5,255.6 L1086.4,234.7 L1107.2,212.8 L1128.0,193.0 L1148.9,173.8 L1169.7,155.6 L1190.6,139.0 L1211.4,124.5 L1232.3,109.3 L1253.1,97.5 L1274.0,89.3 L1294.8,84.7 L1315.6,80.1 L1336.5,77.4 L1357.3,76.1 L1378.2,75.2 L1399.0,74.7 L1419.9,74.3 L1440.7,73.7" fill="none" stroke="#2ea360" stroke-width="3.8" stroke-linejoin="round"/>
<polygon points="815.4,123.6 820.5,114.7 810.3,114.7" fill="#fff" stroke="#2ea360" stroke-width="1.0"/>
<polygon points="836.2,124.7 841.4,115.8 831.1,115.8" fill="#fff" stroke="#2ea360" stroke-width="1.0"/>
<polygon points="857.1,128.4 862.2,119.5 852.0,119.5" fill="#fff" stroke="#2ea360" stroke-width="1.0"/>
<polygon points="877.9,134.6 883.1,125.7 872.8,125.7" fill="#fff" stroke="#2ea360" stroke-width="1.0"/>
<polygon points="898.8,144.1 903.9,135.2 893.7,135.2" fill="#fff" stroke="#2ea360" stroke-width="1.0"/>
<polygon points="919.6,154.1 924.7,145.2 914.5,145.2" fill="#fff" stroke="#2ea360" stroke-width="1.0"/>
<polygon points="940.5,169.1 945.6,160.2 935.3,160.2" fill="#fff" stroke="#2ea360" stroke-width="1.0"/>
<polygon points="961.3,189.8 966.4,180.9 956.2,180.9" fill="#fff" stroke="#2ea360" stroke-width="1.0"/>
<polygon points="982.1,212.5 987.3,203.6 977.0,203.6" fill="#fff" stroke="#2ea360" stroke-width="1.0"/>
<polygon points="1003.0,233.9 1008.1,225.0 997.9,225.0" fill="#fff" stroke="#2ea360" stroke-width="1.0"/>
<polygon points="1023.8,258.0 1029.0,249.1 1018.7,249.1" fill="#fff" stroke="#2ea360" stroke-width="1.0"/>
<polygon points="1044.7,272.6 1049.8,263.7 1039.6,263.7" fill="#fff" stroke="#2ea360" stroke-width="1.0"/>
<polygon points="1065.5,260.7 1070.6,251.8 1060.4,251.8" fill="#fff" stroke="#2ea360" stroke-width="1.0"/>
<polygon points="1086.4,239.8 1091.5,230.9 1081.2,230.9" fill="#fff" stroke="#2ea360" stroke-width="1.0"/>
<polygon points="1107.2,217.9 1112.3,209.0 1102.1,209.0" fill="#fff" stroke="#2ea360" stroke-width="1.0"/>
<polygon points="1128.0,198.1 1133.2,189.2 1122.9,189.2" fill="#fff" stroke="#2ea360" stroke-width="1.0"/>
<polygon points="1148.9,178.9 1154.0,170.0 1143.8,170.0" fill="#fff" stroke="#2ea360" stroke-width="1.0"/>
<polygon points="1169.7,160.7 1174.9,151.8 1164.6,151.8" fill="#fff" stroke="#2ea360" stroke-width="1.0"/>
<polygon points="1190.6,144.1 1195.7,135.2 1185.5,135.2" fill="#fff" stroke="#2ea360" stroke-width="1.0"/>
<polygon points="1211.4,129.6 1216.5,120.7 1206.3,120.7" fill="#fff" stroke="#2ea360" stroke-width="1.0"/>
<polygon points="1232.3,114.4 1237.4,105.5 1227.1,105.5" fill="#fff" stroke="#2ea360" stroke-width="1.0"/>
<polygon points="1253.1,102.6 1258.2,93.7 1248.0,93.7" fill="#fff" stroke="#2ea360" stroke-width="1.0"/>
<polygon points="1274.0,94.4 1279.1,85.5 1268.8,85.5" fill="#fff" stroke="#2ea360" stroke-width="1.0"/>
<polygon points="1294.8,89.8 1299.9,80.9 1289.7,80.9" fill="#fff" stroke="#2ea360" stroke-width="1.0"/>
<polygon points="1315.6,85.2 1320.8,76.3 1310.5,76.3" fill="#fff" stroke="#2ea360" stroke-width="1.0"/>
<polygon points="1336.5,82.5 1341.6,73.6 1331.4,73.6" fill="#fff" stroke="#2ea360" stroke-width="1.0"/>
<polygon points="1357.3,81.2 1362.4,72.3 1352.2,72.3" fill="#fff" stroke="#2ea360" stroke-width="1.0"/>
<polygon points="1378.2,80.3 1383.3,71.4 1373.0,71.4" fill="#fff" stroke="#2ea360" stroke-width="1.0"/>
<polygon points="1399.0,79.8 1404.1,70.9 1393.9,70.9" fill="#fff" stroke="#2ea360" stroke-width="1.0"/>
<polygon points="1419.9,79.4 1425.0,70.5 1414.7,70.5" fill="#fff" stroke="#2ea360" stroke-width="1.0"/>
<polygon points="1440.7,78.8 1445.8,69.9 1435.6,69.9" fill="#fff" stroke="#2ea360" stroke-width="1.0"/>
<path d="M815.4,110.9 L836.2,112.0 L857.1,118.5 L877.9,126.8 L898.8,137.7 L919.6,151.0 L940.5,172.0 L961.3,194.8 L982.1,224.0 L1003.0,254.7 L1023.8,287.0 L1044.7,312.0 L1065.5,312.0 L1086.4,303.4 L1107.2,297.3 L1128.0,290.0 L1148.9,282.3 L1169.7,266.6 L1190.6,243.8 L1211.4,215.5 L1232.3,186.6 L1253.1,162.9 L1274.0,140.0 L1294.8,124.3 L1315.6,111.1 L1336.5,100.6 L1357.3,92.0 L1378.2,86.5 L1399.0,82.3 L1419.9,79.2 L1440.7,78.7" fill="none" stroke="#b27ae2" stroke-width="3.8" stroke-linejoin="round"/>
<polygon points="815.4,105.4 820.9,110.9 815.4,116.4 809.9,110.9" fill="#fff" stroke="#b27ae2" stroke-width="1.0"/>
<polygon points="836.2,106.5 841.7,112.0 836.2,117.5 830.8,112.0" fill="#fff" stroke="#b27ae2" stroke-width="1.0"/>
<polygon points="857.1,113.0 862.6,118.5 857.1,124.0 851.6,118.5" fill="#fff" stroke="#b27ae2" stroke-width="1.0"/>
<polygon points="877.9,121.3 883.4,126.8 877.9,132.3 872.5,126.8" fill="#fff" stroke="#b27ae2" stroke-width="1.0"/>
<polygon points="898.8,132.2 904.2,137.7 898.8,143.2 893.3,137.7" fill="#fff" stroke="#b27ae2" stroke-width="1.0"/>
<polygon points="919.6,145.5 925.1,151.0 919.6,156.5 914.2,151.0" fill="#fff" stroke="#b27ae2" stroke-width="1.0"/>
<polygon points="940.5,166.5 945.9,172.0 940.5,177.5 935.0,172.0" fill="#fff" stroke="#b27ae2" stroke-width="1.0"/>
<polygon points="961.3,189.3 966.8,194.8 961.3,200.3 955.8,194.8" fill="#fff" stroke="#b27ae2" stroke-width="1.0"/>
<polygon points="982.1,218.5 987.6,224.0 982.1,229.5 976.7,224.0" fill="#fff" stroke="#b27ae2" stroke-width="1.0"/>
<polygon points="1003.0,249.2 1008.5,254.7 1003.0,260.2 997.5,254.7" fill="#fff" stroke="#b27ae2" stroke-width="1.0"/>
<polygon points="1023.8,281.5 1029.3,287.0 1023.8,292.5 1018.4,287.0" fill="#fff" stroke="#b27ae2" stroke-width="1.0"/>
<polygon points="1044.7,306.5 1050.1,312.0 1044.7,317.5 1039.2,312.0" fill="#fff" stroke="#b27ae2" stroke-width="1.0"/>
<polygon points="1065.5,306.5 1071.0,312.0 1065.5,317.5 1060.1,312.0" fill="#fff" stroke="#b27ae2" stroke-width="1.0"/>
<polygon points="1086.4,297.9 1091.8,303.4 1086.4,308.9 1080.9,303.4" fill="#fff" stroke="#b27ae2" stroke-width="1.0"/>
<polygon points="1107.2,291.8 1112.7,297.3 1107.2,302.8 1101.7,297.3" fill="#fff" stroke="#b27ae2" stroke-width="1.0"/>
<polygon points="1128.0,284.5 1133.5,290.0 1128.0,295.5 1122.6,290.0" fill="#fff" stroke="#b27ae2" stroke-width="1.0"/>
<polygon points="1148.9,276.8 1154.4,282.3 1148.9,287.8 1143.4,282.3" fill="#fff" stroke="#b27ae2" stroke-width="1.0"/>
<polygon points="1169.7,261.1 1175.2,266.6 1169.7,272.1 1164.3,266.6" fill="#fff" stroke="#b27ae2" stroke-width="1.0"/>
<polygon points="1190.6,238.3 1196.0,243.8 1190.6,249.3 1185.1,243.8" fill="#fff" stroke="#b27ae2" stroke-width="1.0"/>
<polygon points="1211.4,210.0 1216.9,215.5 1211.4,221.0 1206.0,215.5" fill="#fff" stroke="#b27ae2" stroke-width="1.0"/>
<polygon points="1232.3,181.1 1237.7,186.6 1232.3,192.1 1226.8,186.6" fill="#fff" stroke="#b27ae2" stroke-width="1.0"/>
<polygon points="1253.1,157.4 1258.6,162.9 1253.1,168.4 1247.6,162.9" fill="#fff" stroke="#b27ae2" stroke-width="1.0"/>
<polygon points="1274.0,134.5 1279.4,140.0 1274.0,145.5 1268.5,140.0" fill="#fff" stroke="#b27ae2" stroke-width="1.0"/>
<polygon points="1294.8,118.8 1300.3,124.3 1294.8,129.8 1289.3,124.3" fill="#fff" stroke="#b27ae2" stroke-width="1.0"/>
<polygon points="1315.6,105.6 1321.1,111.1 1315.6,116.6 1310.2,111.1" fill="#fff" stroke="#b27ae2" stroke-width="1.0"/>
<polygon points="1336.5,95.1 1341.9,100.6 1336.5,106.1 1331.0,100.6" fill="#fff" stroke="#b27ae2" stroke-width="1.0"/>
<polygon points="1357.3,86.5 1362.8,92.0 1357.3,97.5 1351.9,92.0" fill="#fff" stroke="#b27ae2" stroke-width="1.0"/>
<polygon points="1378.2,81.0 1383.6,86.5 1378.2,92.0 1372.7,86.5" fill="#fff" stroke="#b27ae2" stroke-width="1.0"/>
<polygon points="1399.0,76.8 1404.5,82.3 1399.0,87.8 1393.5,82.3" fill="#fff" stroke="#b27ae2" stroke-width="1.0"/>
<polygon points="1419.9,73.7 1425.3,79.2 1419.9,84.7 1414.4,79.2" fill="#fff" stroke="#b27ae2" stroke-width="1.0"/>
<polygon points="1440.7,73.2 1446.2,78.7 1440.7,84.2 1435.2,78.7" fill="#fff" stroke="#b27ae2" stroke-width="1.0"/>
<path d="M815.4,109.0 L836.2,110.5 L857.1,116.0 L877.9,125.7 L898.8,138.2 L919.6,156.9 L940.5,179.3 L961.3,205.7 L982.1,235.0 L1003.0,272.0 L1023.8,308.3 L1044.7,338.4 L1065.5,343.9 L1086.4,340.3 L1107.2,339.8 L1128.0,339.4 L1148.9,335.0 L1169.7,319.0 L1190.6,292.3 L1211.4,261.1 L1232.3,226.5 L1253.1,196.6 L1274.0,172.0 L1294.8,150.0 L1315.6,131.2 L1336.5,117.5 L1357.3,105.7 L1378.2,97.5 L1399.0,91.1 L1419.9,87.8 L1440.7,87.1" fill="none" stroke="#cd9914" stroke-width="3.8" stroke-linejoin="round"/>
<polygon points="810.3,109.0 819.2,103.9 819.2,114.1" fill="#fff" stroke="#cd9914" stroke-width="1.0"/>
<polygon points="831.1,110.5 840.1,105.4 840.1,115.6" fill="#fff" stroke="#cd9914" stroke-width="1.0"/>
<polygon points="852.0,116.0 860.9,110.9 860.9,121.1" fill="#fff" stroke="#cd9914" stroke-width="1.0"/>
<polygon points="872.8,125.7 881.8,120.6 881.8,130.8" fill="#fff" stroke="#cd9914" stroke-width="1.0"/>
<polygon points="893.7,138.2 902.6,133.1 902.6,143.3" fill="#fff" stroke="#cd9914" stroke-width="1.0"/>
<polygon points="914.5,156.9 923.5,151.8 923.5,162.0" fill="#fff" stroke="#cd9914" stroke-width="1.0"/>
<polygon points="935.3,179.3 944.3,174.2 944.3,184.4" fill="#fff" stroke="#cd9914" stroke-width="1.0"/>
<polygon points="956.2,205.7 965.1,200.6 965.1,210.8" fill="#fff" stroke="#cd9914" stroke-width="1.0"/>
<polygon points="977.0,235.0 986.0,229.9 986.0,240.1" fill="#fff" stroke="#cd9914" stroke-width="1.0"/>
<polygon points="997.9,272.0 1006.8,266.9 1006.8,277.1" fill="#fff" stroke="#cd9914" stroke-width="1.0"/>
<polygon points="1018.7,308.3 1027.7,303.2 1027.7,313.4" fill="#fff" stroke="#cd9914" stroke-width="1.0"/>
<polygon points="1039.6,338.4 1048.5,333.3 1048.5,343.5" fill="#fff" stroke="#cd9914" stroke-width="1.0"/>
<polygon points="1060.4,343.9 1069.4,338.8 1069.4,349.0" fill="#fff" stroke="#cd9914" stroke-width="1.0"/>
<polygon points="1081.2,340.3 1090.2,335.2 1090.2,345.4" fill="#fff" stroke="#cd9914" stroke-width="1.0"/>
<polygon points="1102.1,339.8 1111.0,334.7 1111.0,344.9" fill="#fff" stroke="#cd9914" stroke-width="1.0"/>
<polygon points="1122.9,339.4 1131.9,334.3 1131.9,344.5" fill="#fff" stroke="#cd9914" stroke-width="1.0"/>
<polygon points="1143.8,335.0 1152.7,329.9 1152.7,340.1" fill="#fff" stroke="#cd9914" stroke-width="1.0"/>
<polygon points="1164.6,319.0 1173.6,313.9 1173.6,324.1" fill="#fff" stroke="#cd9914" stroke-width="1.0"/>
<polygon points="1185.5,292.3 1194.4,287.2 1194.4,297.4" fill="#fff" stroke="#cd9914" stroke-width="1.0"/>
<polygon points="1206.3,261.1 1215.3,256.0 1215.3,266.2" fill="#fff" stroke="#cd9914" stroke-width="1.0"/>
<polygon points="1227.1,226.5 1236.1,221.4 1236.1,231.6" fill="#fff" stroke="#cd9914" stroke-width="1.0"/>
<polygon points="1248.0,196.6 1257.0,191.5 1257.0,201.7" fill="#fff" stroke="#cd9914" stroke-width="1.0"/>
<polygon points="1268.8,172.0 1277.8,166.9 1277.8,177.1" fill="#fff" stroke="#cd9914" stroke-width="1.0"/>
<polygon points="1289.7,150.0 1298.6,144.9 1298.6,155.1" fill="#fff" stroke="#cd9914" stroke-width="1.0"/>
<polygon points="1310.5,131.2 1319.5,126.1 1319.5,136.3" fill="#fff" stroke="#cd9914" stroke-width="1.0"/>
<polygon points="1331.4,117.5 1340.3,112.4 1340.3,122.6" fill="#fff" stroke="#cd9914" stroke-width="1.0"/>
<polygon points="1352.2,105.7 1361.2,100.6 1361.2,110.8" fill="#fff" stroke="#cd9914" stroke-width="1.0"/>
<polygon points="1373.0,97.5 1382.0,92.4 1382.0,102.6" fill="#fff" stroke="#cd9914" stroke-width="1.0"/>
<polygon points="1393.9,91.1 1402.9,86.0 1402.9,96.2" fill="#fff" stroke="#cd9914" stroke-width="1.0"/>
<polygon points="1414.7,87.8 1423.7,82.7 1423.7,92.9" fill="#fff" stroke="#cd9914" stroke-width="1.0"/>
<polygon points="1435.6,87.1 1444.5,82.0 1444.5,92.2" fill="#fff" stroke="#cd9914" stroke-width="1.0"/>
<line x1="394.4" y1="12.3" x2="394.4" y2="387.9" stroke="#000" stroke-width="2" stroke-dasharray="12 5 3 4.3" stroke-dashoffset="2.6"/>
<line x1="1128.0" y1="14.1" x2="1128.0" y2="393.5" stroke="#000" stroke-width="2" stroke-dasharray="13.5 4.5 4.2 4.72" stroke-dashoffset="21.32"/>
<rect x="72.6" y="12.3" width="643.2" height="375.6" fill="none" stroke="#000" stroke-width="2.2"/>
<line x1="72.6" y1="49.9" x2="80.6" y2="49.9" stroke="#000" stroke-width="2.2"/>
<line x1="72.6" y1="87.4" x2="80.6" y2="87.4" stroke="#000" stroke-width="2.2"/>
<line x1="72.6" y1="125.0" x2="80.6" y2="125.0" stroke="#000" stroke-width="2.2"/>
<line x1="72.6" y1="162.5" x2="80.6" y2="162.5" stroke="#000" stroke-width="2.2"/>
<line x1="72.6" y1="200.1" x2="80.6" y2="200.1" stroke="#000" stroke-width="2.2"/>
<line x1="72.6" y1="237.7" x2="80.6" y2="237.7" stroke="#000" stroke-width="2.2"/>
<line x1="72.6" y1="275.2" x2="80.6" y2="275.2" stroke="#000" stroke-width="2.2"/>
<line x1="72.6" y1="312.8" x2="80.6" y2="312.8" stroke="#000" stroke-width="2.2"/>
<line x1="72.6" y1="350.3" x2="80.6" y2="350.3" stroke="#000" stroke-width="2.2"/>
<line x1="93.1" y1="387.9" x2="93.1" y2="379.9" stroke="#000" stroke-width="2.2"/>
<line x1="193.7" y1="387.9" x2="193.7" y2="379.9" stroke="#000" stroke-width="2.2"/>
<line x1="294.3" y1="387.9" x2="294.3" y2="379.9" stroke="#000" stroke-width="2.2"/>
<line x1="394.9" y1="387.9" x2="394.9" y2="379.9" stroke="#000" stroke-width="2.2"/>
<line x1="495.5" y1="387.9" x2="495.5" y2="379.9" stroke="#000" stroke-width="2.2"/>
<line x1="596.1" y1="387.9" x2="596.1" y2="379.9" stroke="#000" stroke-width="2.2"/>
<line x1="696.7" y1="387.9" x2="696.7" y2="379.9" stroke="#000" stroke-width="2.2"/>
<rect x="794.5" y="14.1" width="667.0" height="379.4" fill="none" stroke="#000" stroke-width="2.2"/>
<line x1="794.5" y1="68.3" x2="802.5" y2="68.3" stroke="#000" stroke-width="2.2"/>
<line x1="794.5" y1="122.5" x2="802.5" y2="122.5" stroke="#000" stroke-width="2.2"/>
<line x1="794.5" y1="176.7" x2="802.5" y2="176.7" stroke="#000" stroke-width="2.2"/>
<line x1="794.5" y1="230.9" x2="802.5" y2="230.9" stroke="#000" stroke-width="2.2"/>
<line x1="794.5" y1="285.1" x2="802.5" y2="285.1" stroke="#000" stroke-width="2.2"/>
<line x1="794.5" y1="339.3" x2="802.5" y2="339.3" stroke="#000" stroke-width="2.2"/>
<line x1="815.4" y1="393.5" x2="815.4" y2="385.5" stroke="#000" stroke-width="2.2"/>
<line x1="919.6" y1="393.5" x2="919.6" y2="385.5" stroke="#000" stroke-width="2.2"/>
<line x1="1023.8" y1="393.5" x2="1023.8" y2="385.5" stroke="#000" stroke-width="2.2"/>
<line x1="1128.0" y1="393.5" x2="1128.0" y2="385.5" stroke="#000" stroke-width="2.2"/>
<line x1="1232.3" y1="393.5" x2="1232.3" y2="385.5" stroke="#000" stroke-width="2.2"/>
<line x1="1336.5" y1="393.5" x2="1336.5" y2="385.5" stroke="#000" stroke-width="2.2"/>
<line x1="1440.7" y1="393.5" x2="1440.7" y2="385.5" stroke="#000" stroke-width="2.2"/>
<text x="64" y="17.5" text-anchor="end" font-size="15.5" letter-spacing="0.8" font-family="Liberation Serif, serif">0.1</text>
<text x="64" y="55.1" text-anchor="end" font-size="15.5" letter-spacing="0.8" font-family="Liberation Serif, serif">0.0</text>
<text x="64" y="92.6" text-anchor="end" font-size="15.5" letter-spacing="0.8" font-family="Liberation Serif, serif">-0.1</text>
<text x="64" y="130.2" text-anchor="end" font-size="15.5" letter-spacing="0.8" font-family="Liberation Serif, serif">-0.2</text>
<text x="64" y="167.7" text-anchor="end" font-size="15.5" letter-spacing="0.8" font-family="Liberation Serif, serif">-0.3</text>
<text x="64" y="205.3" text-anchor="end" font-size="15.5" letter-spacing="0.8" font-family="Liberation Serif, serif">-0.4</text>
<text x="64" y="242.9" text-anchor="end" font-size="15.5" letter-spacing="0.8" font-family="Liberation Serif, serif">-0.5</text>
<text x="64" y="280.4" text-anchor="end" font-size="15.5" letter-spacing="0.8" font-family="Liberation Serif, serif">-0.6</text>
<text x="64" y="318.0" text-anchor="end" font-size="15.5" letter-spacing="0.8" font-family="Liberation Serif, serif">-0.7</text>
<text x="64" y="355.5" text-anchor="end" font-size="15.5" letter-spacing="0.8" font-family="Liberation Serif, serif">-0.8</text>
<text x="64" y="393.1" text-anchor="end" font-size="15.5" letter-spacing="0.8" font-family="Liberation Serif, serif">-0.9</text>
<text x="784.8" y="18.8" text-anchor="end" font-size="16" letter-spacing="0.8" font-family="Liberation Serif, serif">0.1</text>
<text x="784.8" y="73.0" text-anchor="end" font-size="16" letter-spacing="0.8" font-family="Liberation Serif, serif">0.0</text>
<text x="784.8" y="127.2" text-anchor="end" font-size="16" letter-spacing="0.8" font-family="Liberation Serif, serif">-0.1</text>
<text x="784.8" y="181.4" text-anchor="end" font-size="16" letter-spacing="0.8" font-family="Liberation Serif, serif">-0.2</text>
<text x="784.8" y="235.6" text-anchor="end" font-size="16" letter-spacing="0.8" font-family="Liberation Serif, serif">-0.3</text>
<text x="784.8" y="289.8" text-anchor="end" font-size="16" letter-spacing="0.8" font-family="Liberation Serif, serif">-0.4</text>
<text x="784.8" y="344.0" text-anchor="end" font-size="16" letter-spacing="0.8" font-family="Liberation Serif, serif">-0.5</text>
<text x="784.8" y="398.2" text-anchor="end" font-size="16" letter-spacing="0.8" font-family="Liberation Serif, serif">-0.6</text>
<text x="91.9" y="411.3" text-anchor="middle" font-size="15.5" letter-spacing="0.8" font-family="Liberation Serif, serif">-15</text>
<text x="814.2" y="415.8" text-anchor="middle" font-size="16" letter-spacing="0.8" font-family="Liberation Serif, serif">-15</text>
<text x="192.5" y="411.3" text-anchor="middle" font-size="15.5" letter-spacing="0.8" font-family="Liberation Serif, serif">-10</text>
<text x="918.4" y="415.8" text-anchor="middle" font-size="16" letter-spacing="0.8" font-family="Liberation Serif, serif">-10</text>
<text x="293.1" y="411.3" text-anchor="middle" font-size="15.5" letter-spacing="0.8" font-family="Liberation Serif, serif">-5</text>
<text x="1022.6" y="415.8" text-anchor="middle" font-size="16" letter-spacing="0.8" font-family="Liberation Serif, serif">-5</text>
<text x="393.7" y="411.3" text-anchor="middle" font-size="15.5" letter-spacing="0.8" font-family="Liberation Serif, serif">0</text>
<text x="1126.8" y="415.8" text-anchor="middle" font-size="16" letter-spacing="0.8" font-family="Liberation Serif, serif">0</text>
<text x="494.3" y="411.3" text-anchor="middle" font-size="15.5" letter-spacing="0.8" font-family="Liberation Serif, serif">5</text>
<text x="1231.1" y="415.8" text-anchor="middle" font-size="16" letter-spacing="0.8" font-family="Liberation Serif, serif">5</text>
<text x="594.9" y="411.3" text-anchor="middle" font-size="15.5" letter-spacing="0.8" font-family="Liberation Serif, serif">10</text>
<text x="1335.3" y="415.8" text-anchor="middle" font-size="16" letter-spacing="0.8" font-family="Liberation Serif, serif">10</text>
<text x="695.5" y="411.3" text-anchor="middle" font-size="15.5" letter-spacing="0.8" font-family="Liberation Serif, serif">15</text>
<text x="1439.5" y="415.8" text-anchor="middle" font-size="16" letter-spacing="0.8" font-family="Liberation Serif, serif">15</text>
<text x="176" y="437.3" font-size="21.2" font-family="Liberation Serif, serif">Distance from central axis of double-track tunnel (m)</text>
<text x="893.5" y="437.7" font-size="21.82" font-family="Liberation Serif, serif">Distance from central axis of double-track tunnel (m)</text>
<text transform="translate(21.6,200.3) rotate(-90)" text-anchor="middle" font-size="21.6" font-family="Liberation Serif, serif">Vertical displacement of existing station (mm)</text>
<text transform="translate(743.3,203.7) rotate(-90)" text-anchor="middle" font-size="22.05" font-family="Liberation Serif, serif">Vertical displacement of existing station (mm)</text>
<line x1="532.8" y1="232.6" x2="562.0" y2="232.6" stroke="#4d4d4d" stroke-width="4.0" stroke-linecap="round"/>
<rect x="543.95" y="229.60" width="6.9" height="6.0" fill="#fff" stroke="#4d4d4d" stroke-width="1.3"/>
<text x="566" y="237.2" font-size="13.65" font-family="Liberation Serif, serif">Excavation of left line</text>
<line x1="532.8" y1="249.7" x2="562.0" y2="249.7" stroke="#ec3b3b" stroke-width="4.0" stroke-linecap="round"/>
<circle cx="547.4" cy="249.7" r="3.7" fill="#fff" stroke="#ec3b3b" stroke-width="1.0"/>
<text x="566" y="254.3" font-size="13.65" font-family="Liberation Serif, serif">Pile removal on left line</text>
<line x1="532.8" y1="266.8" x2="562.0" y2="266.8" stroke="#1f6fe0" stroke-width="4.0" stroke-linecap="round"/>
<polygon points="547.4,261.9 552.3,270.5 542.5,270.5" fill="#fff" stroke="#1f6fe0" stroke-width="1.0"/>
<text x="566" y="271.4" font-size="13.65" font-family="Liberation Serif, serif">Left line secondary lining</text>
<line x1="532.8" y1="283.9" x2="562.0" y2="283.9" stroke="#2ea360" stroke-width="4.0" stroke-linecap="round"/>
<polygon points="547.4,288.8 552.3,280.3 542.5,280.3" fill="#fff" stroke="#2ea360" stroke-width="1.0"/>
<text x="566" y="288.5" font-size="13.65" font-family="Liberation Serif, serif">Left line three lining</text>
<line x1="532.8" y1="301.0" x2="562.0" y2="301.0" stroke="#b27ae2" stroke-width="4.0" stroke-linecap="round"/>
<polygon points="547.4,295.8 552.6,301.0 547.4,306.2 542.2,301.0" fill="#fff" stroke="#b27ae2" stroke-width="1.0"/>
<text x="566" y="305.6" font-size="13.65" font-family="Liberation Serif, serif">Excavated right line</text>
<line x1="532.8" y1="318.1" x2="562.0" y2="318.1" stroke="#cd9914" stroke-width="4.0" stroke-linecap="round"/>
<polygon points="542.5,318.1 551.1,313.3 551.1,323.0" fill="#fff" stroke="#cd9914" stroke-width="1.0"/>
<text x="566" y="322.8" font-size="13.65" font-family="Liberation Serif, serif">Pile removal on right line</text>
<line x1="532.8" y1="335.3" x2="562.0" y2="335.3" stroke="#20c8cd" stroke-width="4.0" stroke-linecap="round"/>
<polygon points="552.3,335.3 543.7,330.4 543.7,340.1" fill="#fff" stroke="#20c8cd" stroke-width="1.0"/>
<text x="566" y="339.9" font-size="13.65" font-family="Liberation Serif, serif">Right line second lining</text>
<line x1="532.8" y1="352.4" x2="562.0" y2="352.4" stroke="#ff7814" stroke-width="4.0" stroke-linecap="round"/>
<circle cx="547.4" cy="352.4" r="3.7" fill="#fff" stroke="#ff7814" stroke-width="1.0"/>
<text x="566" y="357.0" font-size="13.65" font-family="Liberation Serif, serif">Right line three lining</text>
<line x1="1201.0" y1="287.5" x2="1232.0" y2="287.5" stroke="#4d4d4d" stroke-width="4.0" stroke-linecap="round"/>
<rect x="1213.05" y="284.50" width="6.9" height="6.0" fill="#fff" stroke="#4d4d4d" stroke-width="1.3"/>
<text x="1235.3" y="292.1" font-size="13.8" font-family="Liberation Serif, serif">Excavation of left line</text>
<line x1="1201.0" y1="304.9" x2="1232.0" y2="304.9" stroke="#ec3b3b" stroke-width="4.0" stroke-linecap="round"/>
<circle cx="1216.5" cy="304.9" r="3.7" fill="#fff" stroke="#ec3b3b" stroke-width="1.0"/>
<text x="1235.3" y="309.5" font-size="13.8" font-family="Liberation Serif, serif">Left line secondary lining</text>
<line x1="1201.0" y1="322.2" x2="1232.0" y2="322.2" stroke="#1f6fe0" stroke-width="4.0" stroke-linecap="round"/>
<polygon points="1216.5,317.3 1221.4,325.9 1211.6,325.9" fill="#fff" stroke="#1f6fe0" stroke-width="1.0"/>
<text x="1235.3" y="326.8" font-size="13.8" font-family="Liberation Serif, serif">Left line demolition pile + three lining</text>
<line x1="1201.0" y1="339.6" x2="1232.0" y2="339.6" stroke="#2ea360" stroke-width="4.0" stroke-linecap="round"/>
<polygon points="1216.5,344.4 1221.4,335.9 1211.6,335.9" fill="#fff" stroke="#2ea360" stroke-width="1.0"/>
<text x="1235.3" y="344.2" font-size="13.8" font-family="Liberation Serif, serif">Excavation of right line</text>
<line x1="1201.0" y1="356.9" x2="1232.0" y2="356.9" stroke="#b27ae2" stroke-width="4.0" stroke-linecap="round"/>
<polygon points="1216.5,351.7 1221.7,356.9 1216.5,362.1 1211.3,356.9" fill="#fff" stroke="#b27ae2" stroke-width="1.0"/>
<text x="1235.3" y="361.5" font-size="13.8" font-family="Liberation Serif, serif">Right line second lining</text>
<line x1="1201.0" y1="374.2" x2="1232.0" y2="374.2" stroke="#cd9914" stroke-width="4.0" stroke-linecap="round"/>
<polygon points="1211.6,374.2 1220.2,369.4 1220.2,379.1" fill="#fff" stroke="#cd9914" stroke-width="1.0"/>
<text x="1235.3" y="378.9" font-size="13.8" font-family="Liberation Serif, serif">Right line demolition pile + three lining</text>
<text x="0.5" y="485" font-size="32.35" word-spacing="1.75" font-family="Liberation Serif, serif">(a) Settlement of existing station with secondary lining front cutting pile,</text>
<text x="997.3" y="485" font-size="32.35" word-spacing="1.7" font-family="Liberation Serif, serif">(b) settlement of existing station after</text>
<text x="0.3" y="540.7" font-size="32.35" font-family="Liberation Serif, serif">pile-cutting after secondary lining</text>
</svg>
</body></html>
